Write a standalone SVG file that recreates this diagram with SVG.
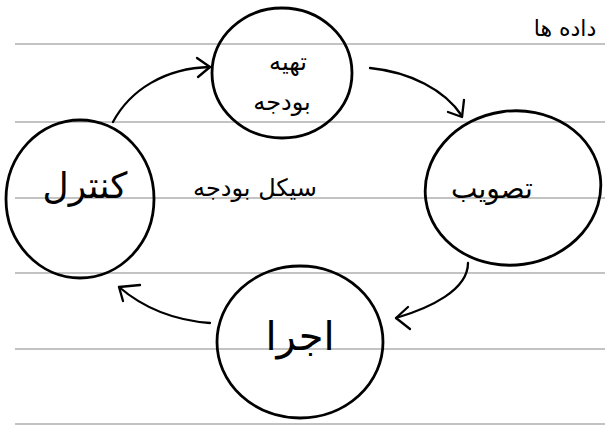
<svg xmlns="http://www.w3.org/2000/svg" width="605" height="428" viewBox="0 0 605 428">
<style>
.rule{stroke:#888;stroke-width:1.2}
.node{fill:none;stroke:#000;stroke-width:2.8}
.lbl{font-family:"DejaVu Sans",sans-serif;fill:#000;text-anchor:middle}
.edge{fill:none;stroke:#000;stroke-width:2.3;stroke-linecap:round;stroke-linejoin:round}
</style>
<rect width="605" height="428" fill="#fff"/>
<g id="rules">
<line class="rule" x1="15" y1="44" x2="605" y2="44"/>
<line class="rule" x1="15" y1="122" x2="605" y2="122"/>
<line class="rule" x1="15" y1="198" x2="605" y2="198"/>
<line class="rule" x1="15" y1="273" x2="605" y2="273"/>
<line class="rule" x1="15" y1="349" x2="605" y2="349"/>
<line class="rule" x1="15" y1="424" x2="605" y2="424"/>
</g>
<g id="note"><text class="lbl" x="565" y="36" font-size="22">داده ها</text></g>
<g id="title"><text class="lbl" x="255" y="196" font-size="24">سیکل بودجه</text></g>
<g id="n-budget">
<ellipse class="node" cx="282" cy="73" rx="70" ry="65"/>
<text class="lbl" x="288" y="70" font-size="24">تهیه</text>
<text class="lbl" x="282" y="110" font-size="24">بودجه</text>
</g>
<g id="n-approve">
<ellipse class="node" cx="513" cy="188" rx="88" ry="77" transform="rotate(-8 513 188)"/>
<text class="lbl" x="492" y="198" font-size="28">تصویب</text>
</g>
<g id="n-execute">
<ellipse class="node" cx="300" cy="342" rx="83" ry="76"/>
<text class="lbl" x="300" y="350" font-size="40">اجرا</text>
</g>
<g id="n-control">
<ellipse class="node" cx="80" cy="199" rx="74" ry="79"/>
<text class="lbl" x="85" y="198" font-size="36">کنترل</text>
</g>
<g id="edges">
<path class="edge" d="M113,122 C130,90 165,68 210,67"/>
<path class="edge" d="M197,58 L210,67 L198,77"/>
<path class="edge" d="M370,68 C410,72 445,90 462,116"/>
<path class="edge" d="M448,112 L462,117 L464,100"/>
<path class="edge" d="M468,263 C468,290 430,308 396,318"/>
<path class="edge" d="M408,307 L396,318 L410,329"/>
<path class="edge" d="M210,323 C170,320 140,305 119,287"/>
<path class="edge" d="M140,285 L119,287 L123,301"/>
</g>
</svg>
